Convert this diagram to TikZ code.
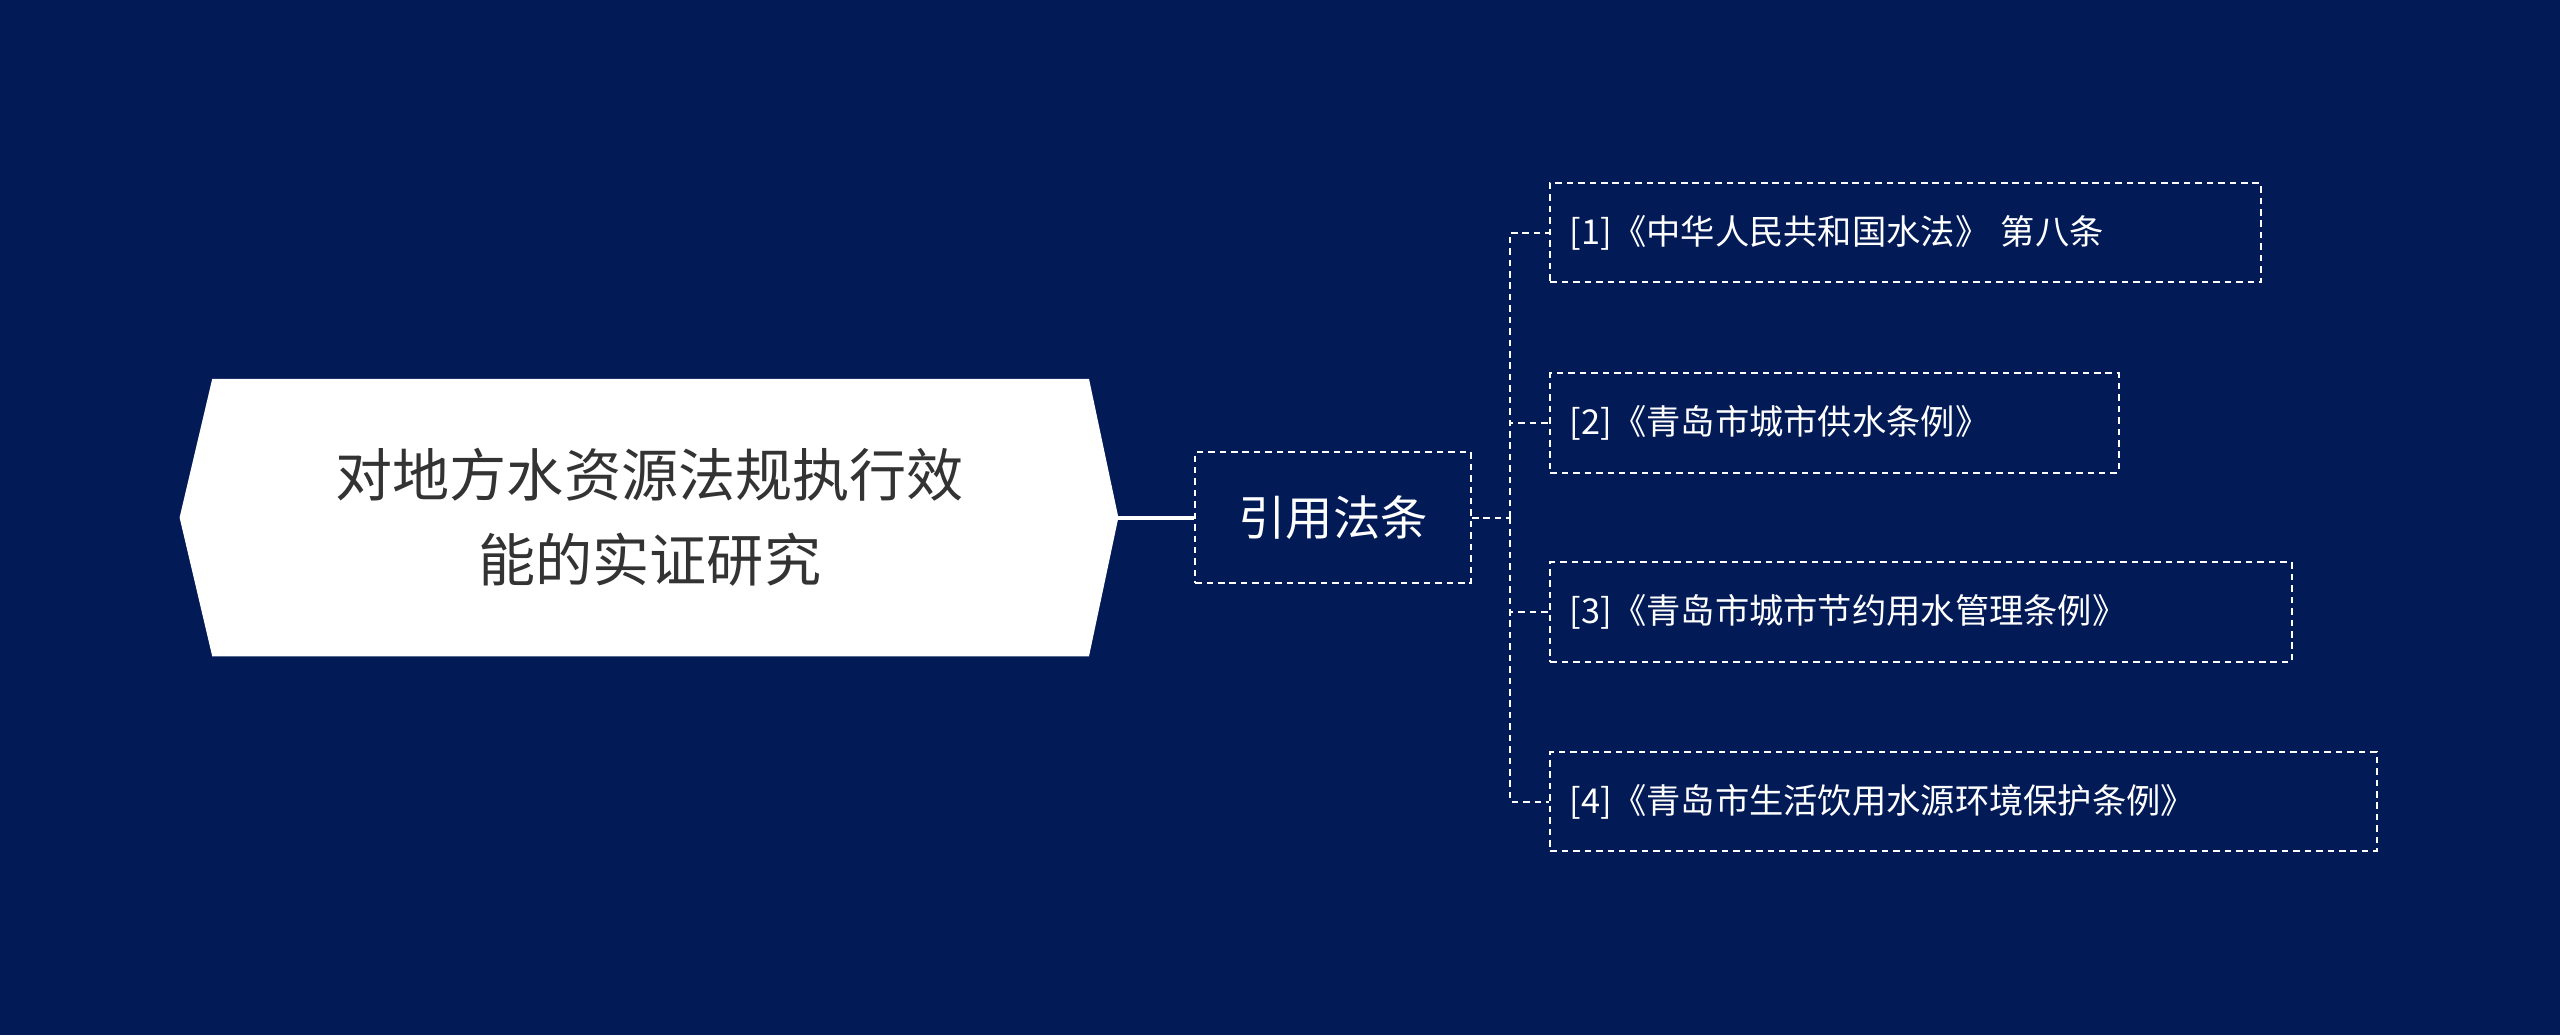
\documentclass[tikz,border=0pt]{standalone}
\usepackage{fontspec}
\setmainfont{Noto Sans CJK SC}
\definecolor{bg}{HTML}{021A55}
\definecolor{rootfg}{HTML}{333333}
\begin{document}
\begin{tikzpicture}[x=1pt,y=-1pt,
  dbox/.style={draw=white,dashed,line width=1.2pt,dash pattern=on 4pt off 3pt},
  dline/.style={draw=white,line width=1.2pt,dash pattern=on 4pt off 3pt},
  leaf/.style={dbox,text=white,font=\fontsize{21}{25}\selectfont,anchor=west,inner xsep=12pt,minimum height=61pt}]
\fill[bg] (0,0) rectangle (1568,634);
\useasboundingbox (0,0) rectangle (1568,634);
\fill[white] (110,317) -- (130,232) -- (667,232) -- (685,317) -- (667,402) -- (130,402) -- cycle;
\node[text=rootfg,align=center,font=\fontsize{35}{52}\selectfont] (root) at (398,317) {对地方水资源法规执行效\\能的实证研究};
\coordinate (rootR) at (685,317);
\node[dbox,text=white,font=\fontsize{29}{34}\selectfont,minimum width=169pt,minimum height=80pt] (mid) at (816.5,317) {引用法条};
\draw[white,line width=2.5pt] (rootR) -- (mid.west);
\node[leaf,minimum width=435pt,text width=411pt] (c1) at (949,142.5) {[1]《中华人民共和国水法》 第八条};
\node[leaf,minimum width=348pt,text width=324pt] (c2) at (949,259) {[2]《青岛市城市供水条例》};
\node[leaf,minimum width=454pt,text width=430pt] (c3) at (949,375) {[3]《青岛市城市节约用水管理条例》};
\node[leaf,minimum width=506pt,text width=482pt] (c4) at (949,491) {[4]《青岛市生活饮用水源环境保护条例》};
\coordinate (j) at (925,317);
\draw[dline] (mid.east) -- (j);
\foreach \c in {c1,c2,c3,c4} \draw[dline] (j) |- (\c.west);
\end{tikzpicture}
\end{document}
